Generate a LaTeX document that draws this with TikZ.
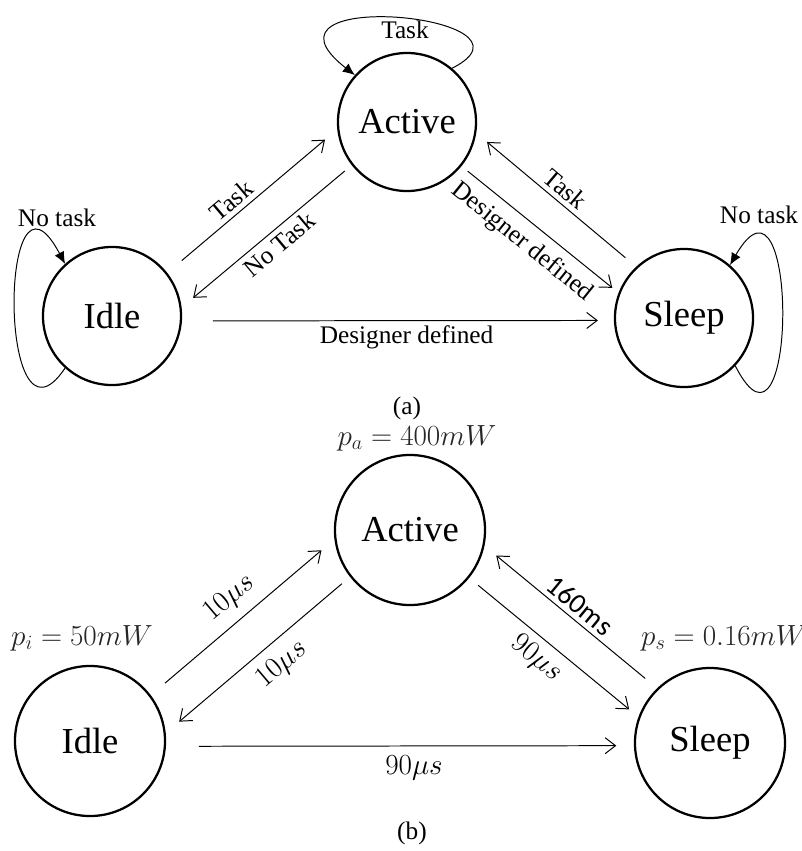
\documentclass[tikz,border=0pt]{standalone}
\usepackage{fontspec}
\setmainfont{Liberation Serif}
\newfontfamily\calibfont{Carlito}
\usetikzlibrary{positioning,arrows.meta}

\begin{document}
\begin{tikzpicture}[
            x=0.025cm, y=0.025cm,
            state/.style={circle, draw=black, line width=1.6pt, minimum size=3.45cm, inner sep=0pt, font=\fontsize{26}{30}\selectfont},
            stateb/.style={state, minimum size=3.75cm},
            edge/.style={line width=0.7pt, -{Straight Barb[length=2.6mm,width=4mm]}},
            selfloop/.style={line width=0.7pt, -{Latex[length=3mm,width=2.6mm]}},
            lbl/.style={font=\fontsize{18}{21}\selectfont},
            pw/.style={font=\fontsize{20}{24}\selectfont, text=black!85},
            delay/.style={font=\fontsize{20}{24}\selectfont}
        ]
        \useasboundingbox (0,0) rectangle (802,-851);

        % (a) - task driven transitions
        \node[state] (active) at (407,-122) {Active};
        \node[state] (idle) at (112,-316) {Idle};
        \node[state] (sleep) at (684,-318) {Sleep};

        \draw[edge, shorten <=0.475cm, shorten >=0.4cm] (idle.38) -- node[lbl, sloped, above, pos=.43] (tIA) {Task} (active.186);
        \draw[edge, shorten <=0.225cm, shorten >=0.375cm] (active.218) -- node[lbl, sloped, below, pos=.48] (tAI) {No Task} (idle.7);
        \draw[edge, shorten <=0.2cm, shorten >=0.2cm] (active.321) -- node[lbl, sloped, below=3pt, pos=.47] (tAS) {Designer defined} (sleep.159);
        \draw[edge, shorten <=0.35cm, shorten >=0.35cm] (sleep.133) -- node[lbl, sloped, above, pos=.5] (tSA) {Task} (active.351);
        \draw[edge, shorten <=0.775cm, shorten >=0.4cm] (idle.-4) -- node[lbl, below, pos=.52] (tIS) {Designer defined} (sleep.182);

        \draw[selfloop] (active.50) to[out=27, in=142, out distance=2.9cm, in distance=3.65cm] (active.138);
        \draw[selfloop] (idle.228) to[out=236, in=118, out distance=3.02cm, in distance=3.55cm] (idle.132);
        \draw[selfloop] (sleep.317) to[out=297, in=60, out distance=3.43cm, in distance=3.47cm] (sleep.49);
        \node[lbl] (tAA) at (405,-30) {Task};
        \node[lbl] (tII) at (57,-218) {No task};
        \node[lbl] (tSS) at (759,-215) {No task};

        \node[lbl] (capa) at (407,-408) {(a)};

        % (b) - power and latency
        \node[stateb] (actb) at (410,-530) {Active};
        \node[stateb] (idleb) at (90,-741) {Idle};
        \node[stateb] (sleepb) at (710,-743) {Sleep};

        \node[pw] (pact) at (417,-438) {$p_a = 400mW$};
        \node[pw] (pidle) at (82,-638) {$p_i = 50mW$};
        \node[pw] (psleep) at (724,-638) {$p_s = 0.16mW$};

        \draw[edge, shorten <=0.465cm, shorten >=0.425cm] (idleb.37) -- node[delay, sloped, above=4pt, pos=.51] (dIA) {$10\mu s$} (actb.187);
        \draw[edge, shorten <=0.265cm, shorten >=0.44cm] (actb.218) -- node[delay, sloped, below=4pt, pos=.45] (dAI) {$10\mu s$} (idleb.6);
        \draw[edge, shorten <=0.29cm, shorten >=0.3cm] (actb.321) -- node[delay, sloped, below=2pt, pos=.47] (dAS) {$90\mu s$} (sleepb.160);
        \draw[edge, shorten <=0.385cm, shorten >=0.38cm] (sleepb.134) -- node[delay, sloped, above, pos=.5] (dSA) {\calibfont 160ms} (actb.348);
        \draw[edge, shorten <=0.82cm, shorten >=0.44cm] (idleb.-4) -- node[delay, below=3pt, pos=.53] (dIS) {$90\mu s$} (sleepb.182);

        \node[lbl] (capb) at (412,-833) {(b)};
        \end{tikzpicture}
\end{document}
